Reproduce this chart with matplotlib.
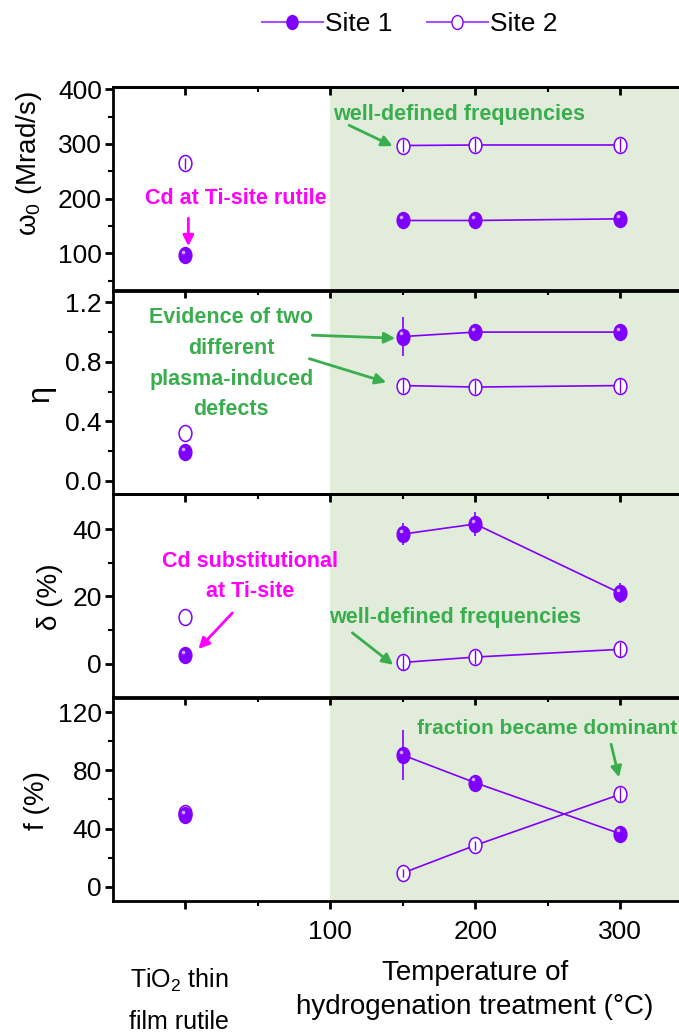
import matplotlib
matplotlib.use('Agg')
import matplotlib.pyplot as plt
import numpy as np
from matplotlib.path import Path
from matplotlib.lines import Line2D
from matplotlib.transforms import offset_copy

plt.rcParams['font.family'] = ['Liberation Sans', 'DejaVu Sans']
plt.rcParams['mathtext.fontset'] = 'custom'
plt.rcParams['mathtext.rm'] = 'Liberation Sans'
plt.rcParams['mathtext.it'] = 'Liberation Sans:italic'

# ---- data ----
temps = [150, 200, 300]
ref_x = [0]                      # TiO2 thin film rutile (as grown)

w0_site1     = [160, 160, 163]
w0_site1_err = [3, 3, 3]
w0_site2     = [297, 298, 298]
w0_site2_err = [12, 12, 12]
w0_ref_site1, w0_ref_site1_err = [96], [3]
w0_ref_site2, w0_ref_site2_err = [265], [10]

eta_site1     = [0.97, 1.00, 1.00]
eta_site1_err = [0.13, 0.02, 0.02]
eta_site2     = [0.64, 0.63, 0.64]
eta_site2_err = [0.05, 0.05, 0.05]
eta_ref_site1, eta_ref_site1_err = [0.19], [0.01]
eta_ref_site2, eta_ref_site2_err = [0.32], [0.0]

delta_site1     = [38.5, 41.5, 21.0]
delta_site1_err = [3.2, 3.5, 3.0]
delta_site2     = [0.4, 2.0, 4.3]
delta_site2_err = [2.2, 2.2, 2.2]
delta_ref_site1, delta_ref_site1_err = [2.6], [0.5]
delta_ref_site2, delta_ref_site2_err = [14.0], [0.0]

f_site1     = [90.5, 71.5, 36.5]
f_site1_err = [17, 5, 2]
f_site2     = [9.5, 28.5, 63.5]
f_site2_err = [3, 3, 5]
f_ref_site1, f_ref_site1_err = [49], [1]
f_ref_site2, f_ref_site2_err = [51], [1]

x_ticks       = [0, 100, 200, 300]
x_tick_labels = ['', '100', '200', '300']

PURPLE  = '#7F00FF'
LPURPLE = '#A552FF'
GREEN   = '#3AAE4F'
MAGENTA = '#FF00FF'
SHADE   = '#E2ECDA'

# vertical ellipse marker
circ = Path.unit_circle()
ell = Path(circ.vertices * np.array([0.8, 1.0]), circ.codes)

fig = plt.figure(figsize=(6.79, 10.35), dpi=100)
left, right = 113/679, 692.5/679
bottom, top = 1 - 901/1035, 1 - 87/1035
gs = fig.add_gridspec(4, 1, left=left, right=right, bottom=bottom, top=top, hspace=0)
axes = [fig.add_subplot(gs[i]) for i in range(4)]


def draw_site(ax, x, y, yerr, filled, connect=True):
    ls = '-' if connect else 'none'
    if filled:
        ax.errorbar(x, y, yerr=yerr, fmt='none', ecolor=PURPLE, elinewidth=1.2, zorder=3)
        ax.plot(x, y, ls=ls, color=PURPLE, lw=1.2, marker=ell, ms=11.5,
                mfc=PURPLE, mec=PURPLE, mew=1, zorder=4)
        # small highlight for the "sphere" look
        hl = offset_copy(ax.transData, fig=fig, x=-1.6, y=2.4, units='points')
        ax.plot(x, y, ls='none', marker='o', ms=2.6, mfc='#D8B8FF', mec='none', alpha=0.9,
                transform=hl, zorder=5)
    else:
        ax.plot(x, y, ls=ls, color=PURPLE, lw=1.2, marker=ell, ms=11.5,
                mfc='white', mec=PURPLE, mew=1.1, zorder=4)
        ax.errorbar(x, y, yerr=yerr, fmt='none', ecolor=PURPLE, elinewidth=1.0, zorder=5)


panels = [
    (w0_site1, w0_site1_err, w0_site2, w0_site2_err, w0_ref_site1, w0_ref_site1_err, w0_ref_site2, w0_ref_site2_err),
    (eta_site1, eta_site1_err, eta_site2, eta_site2_err, eta_ref_site1, eta_ref_site1_err, eta_ref_site2, eta_ref_site2_err),
    (delta_site1, delta_site1_err, delta_site2, delta_site2_err, delta_ref_site1, delta_ref_site1_err, delta_ref_site2, delta_ref_site2_err),
    (f_site1, f_site1_err, f_site2, f_site2_err, f_ref_site1, f_ref_site1_err, f_ref_site2, f_ref_site2_err),
]
ylims   = [(32, 404), (-0.09, 1.28), (-10, 50.4), (-9.7, 130)]
yticks  = [[100, 200, 300, 400], [0.0, 0.4, 0.8, 1.2], [0, 20, 40], [0, 40, 80, 120]]
yminor  = [[50, 150, 250, 350], [0.2, 0.6, 1.0], [10, 30], [20, 60, 100]]

for i, (ax, p) in enumerate(zip(axes, panels)):
    s1, s1e, s2, s2e, r1, r1e, r2, r2e = p
    ax.axvspan(100, 400, color=SHADE, lw=0, zorder=0)
    draw_site(ax, temps, s2, s2e, filled=False)
    draw_site(ax, temps, s1, s1e, filled=True)
    draw_site(ax, ref_x, r2, r2e, filled=False, connect=False)
    draw_site(ax, ref_x, r1, r1e, filled=True, connect=False)

    ax.set_xlim(-50, 350)
    ax.set_ylim(*ylims[i])
    ax.set_yticks(yticks[i])
    ax.set_yticks(yminor[i], minor=True)
    ax.set_xticks(x_ticks)
    ax.set_xticks([50, 150, 250], minor=True)
    for sp in ax.spines.values():
        sp.set_linewidth(2.0)
    ax.tick_params(axis='y', which='major', direction='out', length=6, width=2, labelsize=19, pad=2)
    ax.tick_params(axis='y', which='minor', direction='out', length=3.5, width=1.5)
    if i < 3:
        ax.tick_params(axis='x', which='both', bottom=False, labelbottom=False)
    else:
        ax.set_xticklabels(x_tick_labels)
        ax.tick_params(axis='x', which='major', direction='out', length=6, width=2, labelsize=19, pad=8)
        ax.tick_params(axis='x', which='minor', direction='out', length=3.5, width=1.5)
    sec = ax.secondary_xaxis('top')
    sec.set_xticks(x_ticks)
    sec.set_xticks([50, 150, 250], minor=True)
    sec.tick_params(axis='x', which='major', direction='in', length=6, width=2, labeltop=False)
    sec.tick_params(axis='x', which='minor', direction='in', length=3.5, width=1.5)
    sec.spines['top'].set_linewidth(2.0)

ax1, ax2, ax3, ax4 = axes

# y labels (upright greek letters)
fig.text(29/679, 1 - 164/1035, 'ω$_0$ (Mrad/s)', rotation=90, ha='center', va='center', fontsize=20)
fig.text(40/679, 1 - 393/1035, 'η', rotation=90, ha='center', va='center', fontsize=22)
fig.text(50/679, 1 - 597/1035, 'δ (%)', rotation=90, ha='center', va='center', fontsize=20)
fig.text(37/679, 1 - 801/1035, 'f (%)', rotation=90, ha='center', va='center', fontsize=20)

# x labels
fig.text(475/679, 1 - 990/1035, 'Temperature of\nhydrogenation treatment (°C)', ha='center', va='center',
         fontsize=20, linespacing=1.45)
fig.text(179/679, 1 - 1000/1035, 'TiO$_2$ thin\nfilm rutile', ha='center', va='center',
         fontsize=18, linespacing=1.85)

# annotations
akw = dict(fontsize=15.5, fontweight='bold', ha='center', va='center')
def arr(color):
    return dict(arrowstyle='-|>', color=color, lw=2.0, mutation_scale=16, shrinkA=0, shrinkB=0)

ax1.text(189, 354, 'well-defined frequencies', color=GREEN, **akw)
ax1.annotate('', xy=(143, 296), xytext=(113, 334), arrowprops=arr(GREEN))
ax1.text(34.5, 200, 'Cd at Ti-site rutile', color=MAGENTA, **akw)
ax1.annotate('', xy=(2, 113), xytext=(2, 164), arrowprops=arr(MAGENTA))

ax2.text(31.7, 0.786, 'Evidence of two\ndifferent\nplasma-induced\ndefects', color=GREEN,
         linespacing=1.6, **akw)
ax2.annotate('', xy=(144.8, 0.959), xytext=(87.6, 0.979), arrowprops=arr(GREEN))
ax2.annotate('', xy=(138.6, 0.662), xytext=(85.5, 0.821), arrowprops=arr(GREEN))

ax3.text(44.8, 25.9, 'Cd substitutional\nat Ti-site', color=MAGENTA, linespacing=1.6, **akw)
ax3.annotate('', xy=(9.0, 4.4), xytext=(32.4, 15.1), arrowprops=arr(MAGENTA))
ax3.text(186, 13.6, 'well-defined frequencies', color=GREEN, **akw)
ax3.annotate('', xy=(143.4, -0.3), xytext=(115.2, 9.2), arrowprops=arr(GREEN))

ax4.text(160, 109, 'fraction became dominant', color=GREEN, fontsize=15, fontweight='bold',
         ha='left', va='center', clip_on=False)
ax4.annotate('', xy=(299.3, 75.2), xytext=(293.8, 97.9), arrowprops=arr(GREEN))

# legend
handles = [
    Line2D([], [], color=LPURPLE, lw=1.5, marker=ell, ms=10, mfc=PURPLE, mec=PURPLE),
    Line2D([], [], color=LPURPLE, lw=1.5, marker=ell, ms=10, mfc='white', mec=PURPLE),
]
fig.legend(handles, ['Site 1', 'Site 2'], loc='center', bbox_to_anchor=(410/679, 1 - 24/1035), ncol=2,
           frameon=False, fontsize=19, handlelength=2.3, handletextpad=0.1, columnspacing=1.3)

fig.savefig('out.png', dpi=100)
